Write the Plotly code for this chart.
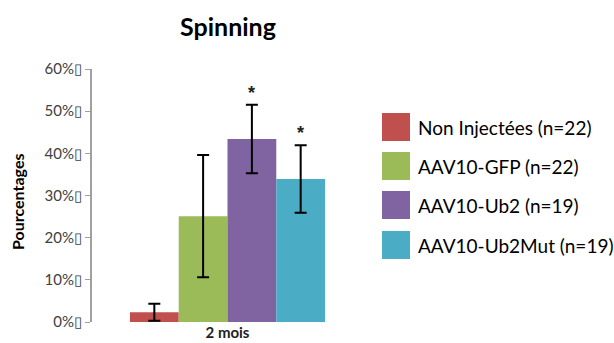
import plotly.graph_objects as go

# Data
category = ["2 mois"]
groups = ["Non Injectées (n=22)", "AAV10-GFP (n=22)", "AAV10-Ub2 (n=19)", "AAV10-Ub2Mut (n=19)"]
values = [2.3, 25.1, 43.4, 33.9]
errors = [2.0, 14.5, 8.1, 8.0]
stars = ["", "", "*", "*"]
colors = ["#C0504D", "#9BBB59", "#8064A2", "#4BACC6"]
y_ticks = [0, 10, 20, 30, 40, 50, 60]
y_ticktext = [f"{t}%\u25af" for t in y_ticks]

FONT = "Lato, 'Open Sans', sans-serif"
W, H = 614, 343
L, R, T, B = 92, 251, 69, 21
PW = W - L - R
PH = H - T - B


def px_x(x):
    return (x - L) / PW


def px_y(y):
    return (H - B - y) / PH


fig = go.Figure()
for name, val, err, col in zip(groups, values, errors, colors):
    fig.add_trace(go.Bar(
        x=category, y=[val], name=name,
        marker=dict(color=col, line=dict(width=0)),
        error_y=dict(type="data", array=[err], color="black", thickness=2, width=6),
        showlegend=False,
    ))

# significance stars above the error bars
bar_w = (1 - 0.28) * PW / len(groups)
for i, (val, err, s) in enumerate(zip(values, errors, stars)):
    if s:
        fig.add_annotation(
            x=category[0], y=val + err, text="<b>" + s + "</b>", showarrow=False,
            xref="x", yref="y", yanchor="bottom", yshift=0,
            xshift=(i - (len(groups) - 1) / 2) * bar_w,
            font=dict(size=18, color="#222", family="'Liberation Sans'"),
        )

# legend drawn by hand (large swatches)
leg_y = [127, 166, 205, 245]
for name, col, py in zip(groups, colors, leg_y):
    fig.add_shape(
        type="rect", xref="paper", yref="paper",
        x0=px_x(382), x1=px_x(410), y0=px_y(py + 14), y1=px_y(py - 14),
        fillcolor=col, line=dict(width=0), layer="above",
    )
    fig.add_annotation(
        x=px_x(416), y=px_y(py), xref="paper", yref="paper",
        text=name, showarrow=False, xanchor="left", yanchor="middle",
        font=dict(size=19, color="black", family=FONT),
    )

# y axis title
fig.add_annotation(
    x=px_x(17), y=px_y(202), xref="paper", yref="paper",
    text="<b>Pourcentages</b>", showarrow=False, textangle=-90,
    xanchor="center", yanchor="middle",
    font=dict(size=16, color="black", family=FONT),
)

fig.update_layout(
    width=W, height=H,
    margin=dict(l=L, r=R, t=T, b=B, autoexpand=False),
    paper_bgcolor="white", plot_bgcolor="white",
    barmode="group", bargap=0.28, bargroupgap=0,
    title=dict(text="<b>Spinning</b>", x=228 / W, xanchor="center", y=1 - 27 / H, yanchor="middle",
               font=dict(size=25, color="black", family=FONT)),
    font=dict(family=FONT, color="#404040"),
    showlegend=False,
    xaxis=dict(range=[-0.5, 0.5], showline=False, showgrid=False, ticks="",
               tickfont=dict(size=15, color="#222", family=FONT),
               tickprefix="<b>", ticksuffix="</b>"),
    yaxis=dict(range=[0, 60], tickvals=y_ticks, ticktext=y_ticktext, showgrid=False, zeroline=False,
               showline=True, linecolor="#A0A0A0", linewidth=2, ticks="outside", ticklen=5,
               tickcolor="#A0A0A0", tickwidth=1, tickfont=dict(size=15, color="#404040")),
)

fig.write_html("out.html", config={"displayModeBar": False},
               post_script="document.body.style.margin='0';")
